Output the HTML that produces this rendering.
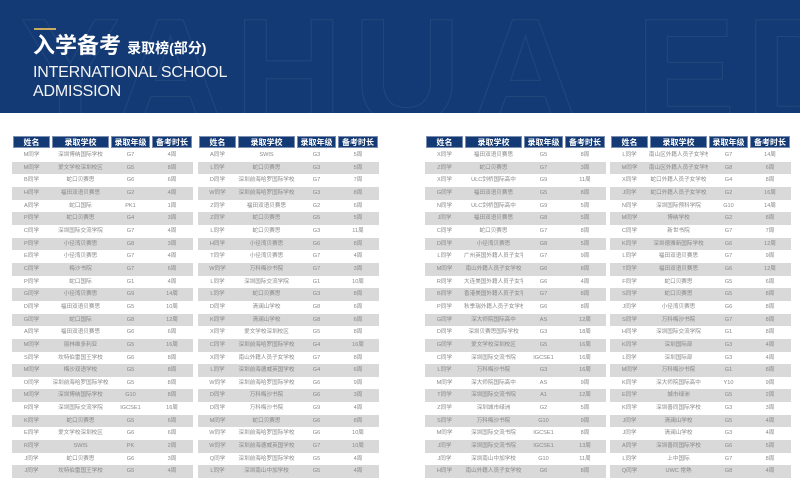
<!DOCTYPE html>
<html><head><meta charset="utf-8"><style>
*{margin:0;padding:0;box-sizing:border-box}
body{width:800px;height:487px;overflow:hidden;background:#fff;font-family:"Liberation Sans","Noto Sans CJK SC",sans-serif;position:relative}
.hd{position:absolute;left:0;top:0;width:800px;height:113px;background:#133a74;overflow:hidden}
.bg{position:absolute;left:20px;top:-15px;font-size:150px;font-weight:bold;color:transparent;-webkit-text-stroke:1px rgba(255,255,255,0.07);letter-spacing:10px;white-space:nowrap}
.gl{position:absolute;left:34px;top:28px;width:22px;height:2px;background:#c9a860}
.t1{position:absolute;left:33px;top:32px;color:#fff;font-size:22px;line-height:28px;font-weight:bold;white-space:nowrap}
.t1 span{font-size:14px;font-weight:bold}
.t2{position:absolute;left:33px;top:63px;color:#f4f4f4;font-size:16px;line-height:19px;white-space:nowrap;letter-spacing:-0.2px}
table{position:absolute;top:135px;border-collapse:separate;border-spacing:0;table-layout:fixed}
th{background:#133a74;color:#fff;font-size:8px;height:14px;font-weight:bold;border:1px solid #fff;box-shadow:inset 0 0 0 1px #7d8fb0;line-height:11px}
td{font-size:5.6px;color:#888;height:12.65px;line-height:12.65px;text-align:center;white-space:nowrap;overflow:hidden}
tbody tr:nth-child(even) td{background:#d9d9d9}
</style></head><body>
<div class="hd"><div class="bg">YAHUA EDU</div><div class="gl"></div>
<div class="t1">入学备考 <span>录取榜(部分)</span></div>
<div class="t2">INTERNATIONAL SCHOOL<br>ADMISSION</div></div>
<table style="left:12px;width:181px"><colgroup><col style="width:39px"><col style="width:59px"><col style="width:41px"><col style="width:42px"></colgroup>
<thead><tr><th>姓名</th><th>录取学校</th><th>录取年级</th><th>备考时长</th></tr></thead><tbody>
<tr><td>M同学</td><td>深圳博纳国际学校</td><td>G7</td><td>4周</td></tr>
<tr><td>M同学</td><td>爱文学校深圳校区</td><td>G5</td><td>8周</td></tr>
<tr><td>B同学</td><td>蛇口贝赛思</td><td>G6</td><td>6周</td></tr>
<tr><td>H同学</td><td>福田双语贝赛思</td><td>G2</td><td>4周</td></tr>
<tr><td>A同学</td><td>蛇口国际</td><td>PK1</td><td>1周</td></tr>
<tr><td>P同学</td><td>蛇口贝赛思</td><td>G4</td><td>3周</td></tr>
<tr><td>C同学</td><td>深圳国际交流学院</td><td>G7</td><td>4周</td></tr>
<tr><td>P同学</td><td>小径湾贝赛思</td><td>G8</td><td>3周</td></tr>
<tr><td>E同学</td><td>小径湾贝赛思</td><td>G7</td><td>4周</td></tr>
<tr><td>C同学</td><td>梅沙书院</td><td>G7</td><td>6周</td></tr>
<tr><td>P同学</td><td>蛇口国际</td><td>G1</td><td>4周</td></tr>
<tr><td>G同学</td><td>小径湾贝赛思</td><td>G9</td><td>14周</td></tr>
<tr><td>D同学</td><td>福田双语贝赛思</td><td>G5</td><td>10周</td></tr>
<tr><td>G同学</td><td>蛇口国际</td><td>G8</td><td>12周</td></tr>
<tr><td>A同学</td><td>福田双语贝赛思</td><td>G6</td><td>6周</td></tr>
<tr><td>M同学</td><td>丽林维多利亚</td><td>G5</td><td>16周</td></tr>
<tr><td>S同学</td><td>坎特伯雷国王学校</td><td>G6</td><td>8周</td></tr>
<tr><td>M同学</td><td>梅沙双语学校</td><td>G5</td><td>8周</td></tr>
<tr><td>O同学</td><td>深圳前海哈罗国际学校</td><td>G5</td><td>8周</td></tr>
<tr><td>M同学</td><td>深圳博纳国际学校</td><td>G10</td><td>8周</td></tr>
<tr><td>R同学</td><td>深圳国际交流学院</td><td>IGCSE1</td><td>16周</td></tr>
<tr><td>K同学</td><td>蛇口贝赛思</td><td>G5</td><td>6周</td></tr>
<tr><td>E同学</td><td>爱文学校深圳校区</td><td>G6</td><td>6周</td></tr>
<tr><td>R同学</td><td>SWIS</td><td>PK</td><td>2周</td></tr>
<tr><td>J同学</td><td>蛇口贝赛思</td><td>G6</td><td>3周</td></tr>
<tr><td>J同学</td><td>坎特伯雷国王学校</td><td>G5</td><td>4周</td></tr>
</tbody></table>
<table style="left:198px;width:181px"><colgroup><col style="width:39px"><col style="width:59px"><col style="width:41px"><col style="width:42px"></colgroup>
<thead><tr><th>姓名</th><th>录取学校</th><th>录取年级</th><th>备考时长</th></tr></thead><tbody>
<tr><td>A同学</td><td>SWIS</td><td>G3</td><td>5周</td></tr>
<tr><td>L同学</td><td>蛇口贝赛思</td><td>G3</td><td>5周</td></tr>
<tr><td>D同学</td><td>深圳前海哈罗国际学校</td><td>G7</td><td>7周</td></tr>
<tr><td>W同学</td><td>深圳前海哈罗国际学校</td><td>G3</td><td>8周</td></tr>
<tr><td>Z同学</td><td>福田双语贝赛思</td><td>G2</td><td>6周</td></tr>
<tr><td>Z同学</td><td>蛇口贝赛思</td><td>G5</td><td>5周</td></tr>
<tr><td>L同学</td><td>蛇口贝赛思</td><td>G3</td><td>11周</td></tr>
<tr><td>H同学</td><td>小径湾贝赛思</td><td>G6</td><td>8周</td></tr>
<tr><td>T同学</td><td>小径湾贝赛思</td><td>G7</td><td>4周</td></tr>
<tr><td>W同学</td><td>万科梅沙书院</td><td>G7</td><td>3周</td></tr>
<tr><td>L同学</td><td>深圳国际交流学院</td><td>G1</td><td>10周</td></tr>
<tr><td>L同学</td><td>蛇口贝赛思</td><td>G3</td><td>8周</td></tr>
<tr><td>D同学</td><td>清澜山学校</td><td>G8</td><td>6周</td></tr>
<tr><td>K同学</td><td>清澜山学校</td><td>G8</td><td>6周</td></tr>
<tr><td>X同学</td><td>爱文学校深圳校区</td><td>G5</td><td>8周</td></tr>
<tr><td>C同学</td><td>深圳前海哈罗国际学校</td><td>G4</td><td>16周</td></tr>
<tr><td>X同学</td><td>南山外籍人员子女学校</td><td>G7</td><td>8周</td></tr>
<tr><td>L同学</td><td>深圳前海德威英国学校</td><td>G4</td><td>6周</td></tr>
<tr><td>W同学</td><td>深圳前海哈罗国际学校</td><td>G6</td><td>9周</td></tr>
<tr><td>D同学</td><td>万科梅沙书院</td><td>G6</td><td>3周</td></tr>
<tr><td>D同学</td><td>万科梅沙书院</td><td>G9</td><td>4周</td></tr>
<tr><td>M同学</td><td>蛇口贝赛思</td><td>G6</td><td>8周</td></tr>
<tr><td>W同学</td><td>深圳前海哈罗国际学校</td><td>G6</td><td>10周</td></tr>
<tr><td>W同学</td><td>深圳前海德威英国学校</td><td>G7</td><td>10周</td></tr>
<tr><td>Q同学</td><td>深圳前海哈罗国际学校</td><td>G5</td><td>4周</td></tr>
<tr><td>L同学</td><td>深圳南山中加学校</td><td>G5</td><td>4周</td></tr>
</tbody></table>
<table style="left:425px;width:181px"><colgroup><col style="width:39px"><col style="width:59px"><col style="width:41px"><col style="width:42px"></colgroup>
<thead><tr><th>姓名</th><th>录取学校</th><th>录取年级</th><th>备考时长</th></tr></thead><tbody>
<tr><td>X同学</td><td>福田双语贝赛思</td><td>G5</td><td>8周</td></tr>
<tr><td>Z同学</td><td>蛇口贝赛思</td><td>G7</td><td>3周</td></tr>
<tr><td>X同学</td><td>ULC剑桥国际高中</td><td>G9</td><td>11周</td></tr>
<tr><td>G同学</td><td>福田双语贝赛思</td><td>G5</td><td>8周</td></tr>
<tr><td>N同学</td><td>ULC剑桥国际高中</td><td>G9</td><td>5周</td></tr>
<tr><td>J同学</td><td>福田双语贝赛思</td><td>G8</td><td>5周</td></tr>
<tr><td>C同学</td><td>蛇口贝赛思</td><td>G7</td><td>8周</td></tr>
<tr><td>D同学</td><td>小径湾贝赛思</td><td>G8</td><td>5周</td></tr>
<tr><td>L同学</td><td>广州英国外籍人员子女学校</td><td>G7</td><td>9周</td></tr>
<tr><td>M同学</td><td>南山外籍人员子女学校</td><td>G6</td><td>8周</td></tr>
<tr><td>R同学</td><td>大连美国外籍人员子女学校</td><td>G6</td><td>4周</td></tr>
<tr><td>B同学</td><td>香港美国外籍人员子女学校</td><td>G7</td><td>8周</td></tr>
<tr><td>P同学</td><td>秋季瑞外籍人员子女学校</td><td>G6</td><td>8周</td></tr>
<tr><td>G同学</td><td>深大师院国际高中</td><td>AS</td><td>12周</td></tr>
<tr><td>D同学</td><td>深圳贝赛思国际学校</td><td>G3</td><td>18周</td></tr>
<tr><td>G同学</td><td>爱文学校深圳校区</td><td>G5</td><td>16周</td></tr>
<tr><td>C同学</td><td>深圳国际交流书院</td><td>IGCSE1</td><td>16周</td></tr>
<tr><td>L同学</td><td>万科梅沙书院</td><td>G3</td><td>16周</td></tr>
<tr><td>M同学</td><td>深大师院国际高中</td><td>AS</td><td>9周</td></tr>
<tr><td>T同学</td><td>深圳国际交流书院</td><td>A1</td><td>12周</td></tr>
<tr><td>Z同学</td><td>深圳城市绿洲</td><td>G2</td><td>5周</td></tr>
<tr><td>S同学</td><td>万科梅沙书院</td><td>G10</td><td>9周</td></tr>
<tr><td>M同学</td><td>深圳国际交流书院</td><td>IGCSE1</td><td>8周</td></tr>
<tr><td>J同学</td><td>深圳国际交流书院</td><td>IGCSE1</td><td>13周</td></tr>
<tr><td>J同学</td><td>深圳南山中加学校</td><td>G10</td><td>11周</td></tr>
<tr><td>H同学</td><td>南山外籍人员子女学校</td><td>G6</td><td>8周</td></tr>
</tbody></table>
<table style="left:610px;width:181px"><colgroup><col style="width:39px"><col style="width:59px"><col style="width:41px"><col style="width:42px"></colgroup>
<thead><tr><th>姓名</th><th>录取学校</th><th>录取年级</th><th>备考时长</th></tr></thead><tbody>
<tr><td>L同学</td><td>南山区外籍人员子女学校</td><td>G7</td><td>14周</td></tr>
<tr><td>M同学</td><td>南山区外籍人员子女学校</td><td>G8</td><td>6周</td></tr>
<tr><td>X同学</td><td>蛇口外籍人员子女学校</td><td>G4</td><td>8周</td></tr>
<tr><td>J同学</td><td>蛇口外籍人员子女学校</td><td>G2</td><td>16周</td></tr>
<tr><td>N同学</td><td>深圳国际预科学院</td><td>G10</td><td>14周</td></tr>
<tr><td>M同学</td><td>博纳学校</td><td>G2</td><td>8周</td></tr>
<tr><td>C同学</td><td>新世书院</td><td>G7</td><td>7周</td></tr>
<tr><td>K同学</td><td>深圳德雅新国际学校</td><td>G6</td><td>12周</td></tr>
<tr><td>L同学</td><td>福田双语贝赛思</td><td>G7</td><td>9周</td></tr>
<tr><td>T同学</td><td>福田双语贝赛思</td><td>G6</td><td>12周</td></tr>
<tr><td>F同学</td><td>蛇口贝赛思</td><td>G5</td><td>6周</td></tr>
<tr><td>S同学</td><td>蛇口贝赛思</td><td>G5</td><td>8周</td></tr>
<tr><td>J同学</td><td>小径湾贝赛思</td><td>G6</td><td>8周</td></tr>
<tr><td>S同学</td><td>万科梅沙书院</td><td>G7</td><td>8周</td></tr>
<tr><td>H同学</td><td>深圳国际交流学院</td><td>G1</td><td>8周</td></tr>
<tr><td>K同学</td><td>深圳国际部</td><td>G3</td><td>4周</td></tr>
<tr><td>L同学</td><td>深圳国际部</td><td>G3</td><td>4周</td></tr>
<tr><td>M同学</td><td>万科梅沙书院</td><td>G1</td><td>8周</td></tr>
<tr><td>K同学</td><td>深大师院国际高中</td><td>Y10</td><td>9周</td></tr>
<tr><td>E同学</td><td>城市绿洲</td><td>G5</td><td>2周</td></tr>
<tr><td>K同学</td><td>深圳善同国际学校</td><td>G3</td><td>3周</td></tr>
<tr><td>J同学</td><td>清澜山学校</td><td>G5</td><td>4周</td></tr>
<tr><td>J同学</td><td>清澜山学校</td><td>G3</td><td>4周</td></tr>
<tr><td>A同学</td><td>深圳善同国际学校</td><td>G6</td><td>5周</td></tr>
<tr><td>L同学</td><td>上中国际</td><td>G7</td><td>8周</td></tr>
<tr><td>Q同学</td><td>UWC 常熟</td><td>G8</td><td>4周</td></tr>
</tbody></table>
</body></html>
